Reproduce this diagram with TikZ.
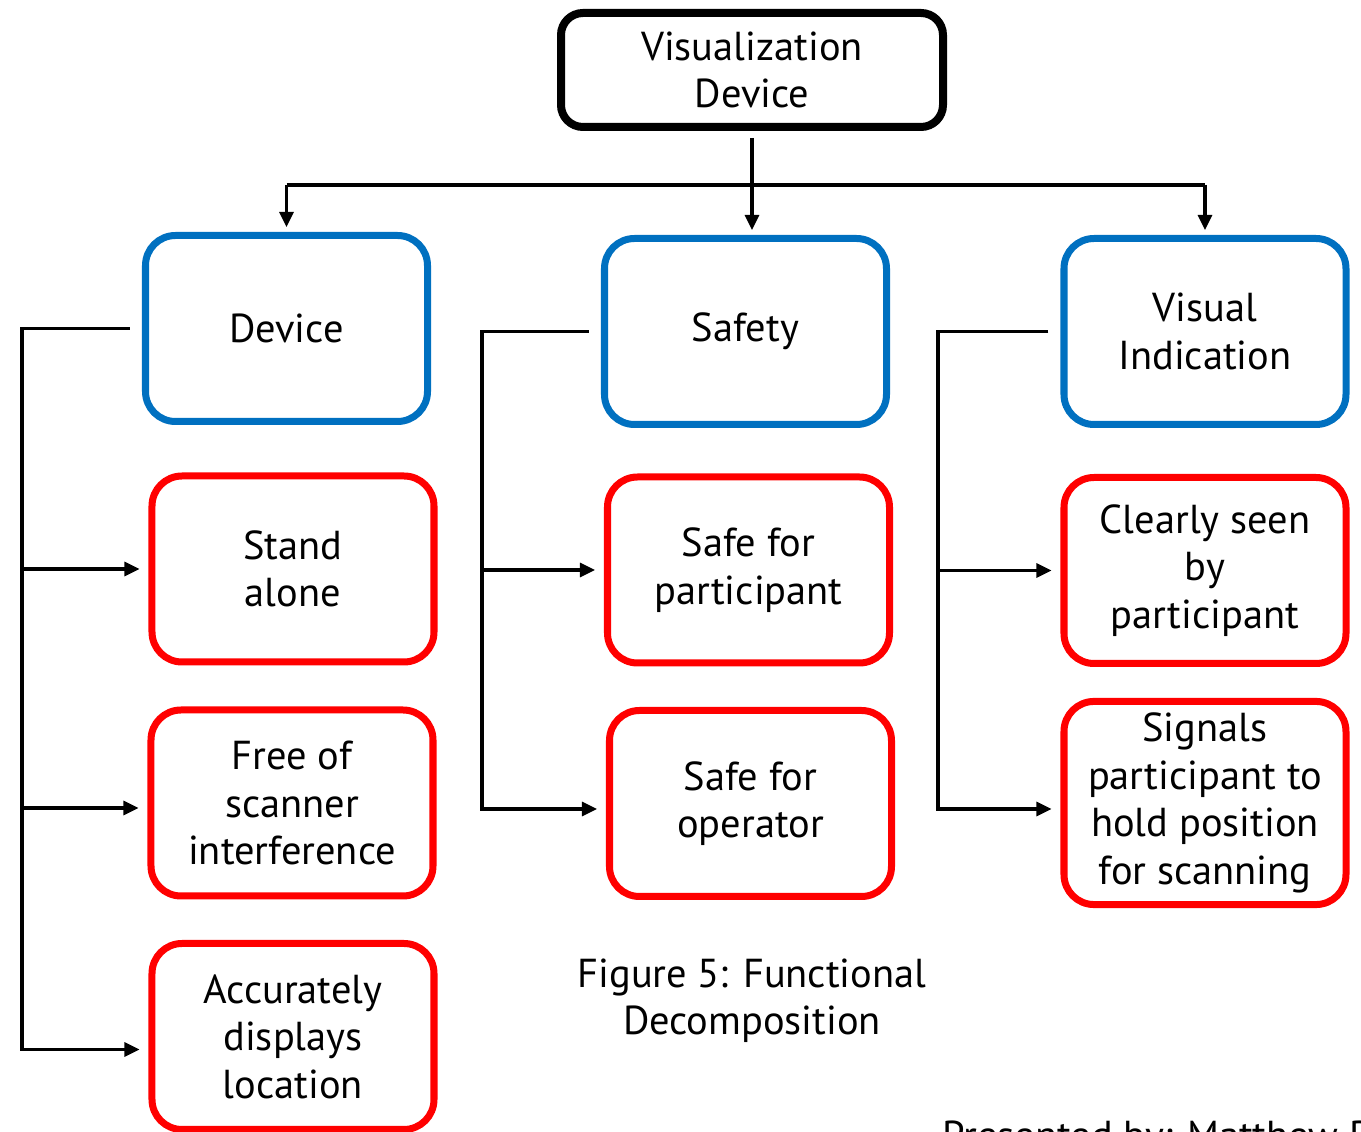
\documentclass[tikz,border=0pt]{standalone}
\usepackage{fontspec}
\setmainfont{PT Sans}
\usetikzlibrary{arrows.meta}
\definecolor{catblue}{RGB}{0,112,192}
\definecolor{reqred}{RGB}{255,0,0}

\begin{document}
\begin{tikzpicture}[every node/.style={font=\fontsize{11.5}{13.5}\selectfont, align=center}, >={Triangle[length=1.5mm, width=1.4mm]},
	topbox/.style={draw, line width=0.08cm, rounded corners=0.22cm, minimum width=3.82cm, minimum height=1.14cm},
	catbox/.style={draw=catblue, line width=0.07cm, rounded corners=0.3cm, minimum width=2.82cm, minimum height=1.86cm},
	reqbox/.style={catbox, draw=reqred},
	link/.style={line width=0.9pt}]
	\useasboundingbox (0,0) rectangle (13.61,-11.32);
	% top level
	\node[topbox] (top) at (7.52,-0.70) {Visualization\\Device};
	\coordinate (bar) at (7.52,-1.85);
	% categories
	\node[catbox] (dev) at (2.865,-3.285) {Device};
	\node[catbox] (safe) at (7.455,-3.315) {Safety};
	\node[catbox] (vis) at (12.05,-3.315) {Visual\\Indication};
	% requirements
	\node[reqbox] (sa) at (2.93,-5.69) {Stand\\alone};
	\node[reqbox] (fs) at (2.92,-8.03) {Free of\\scanner\\interference};
	\node[reqbox] (acc) at (2.93,-10.365) {Accurately\\displays\\location};
	\node[reqbox] (sfp) at (7.485,-5.70) {Safe for\\participant};
	\node[reqbox] (sfo) at (7.505,-8.035) {Safe for\\operator};
	\node[reqbox] (cs) at (12.05,-5.705) {Clearly seen\\by\\participant};
	\node[reqbox] (sig) at (12.05,-8.03) {Signals\\participant to\\hold position\\for scanning};
	% tree
	\draw[link, ->, shorten <=0.7mm, shorten >=0.5mm] (top.south) -- (top.south |- safe.north);
	\draw[link] (dev.north |- bar) -- (vis.north |- bar);
	\foreach \n in {dev,vis} {\draw[link, ->, shorten >=0.5mm] (\n.north |- bar) -- (\n.north);}
	% brackets
	\coordinate (ls) at (0.22,0);
	\coordinate (ms) at (4.82,0);
	\coordinate (rs) at (9.38,0);
	\coordinate (fsin) at ([yshift=-0.5mm]fs.west);
	\coordinate (accin) at ([yshift=-1.3mm]acc.west);
	\coordinate (sfoin) at ([yshift=-0.55mm]sfo.west);
	\coordinate (sigin) at ([yshift=-0.6mm]sig.west);
	\draw[link, ->, shorten >=0.9mm] ([xshift=-1.2mm]dev.west) -| (ls |- accin) -- (accin);
	\draw[link, ->, shorten >=0.9mm] (ls |- sa.west) -- (sa.west);
	\draw[link, ->, shorten >=0.9mm] (ls |- fsin) -- (fsin);
	\draw[link, ->, shorten >=0.9mm] ([xshift=-1.2mm]safe.west) -| (ms |- sfoin) -- (sfoin);
	\draw[link, ->, shorten >=0.9mm] (ms |- sfp.west) -- (sfp.west);
	\draw[link, ->, shorten >=0.9mm] ([xshift=-1.2mm]vis.west) -| (rs |- sigin) -- (sigin);
	\draw[link, ->, shorten >=0.9mm] (rs |- cs.west) -- (cs.west);
	% captions
	\node (cap) at (7.52,-10.01) {Figure 5: Functional\\Decomposition};
	\node[anchor=base west] (credit) at (9.30,-11.50) {Presented by: Matthew P};
\end{tikzpicture}
\end{document}
